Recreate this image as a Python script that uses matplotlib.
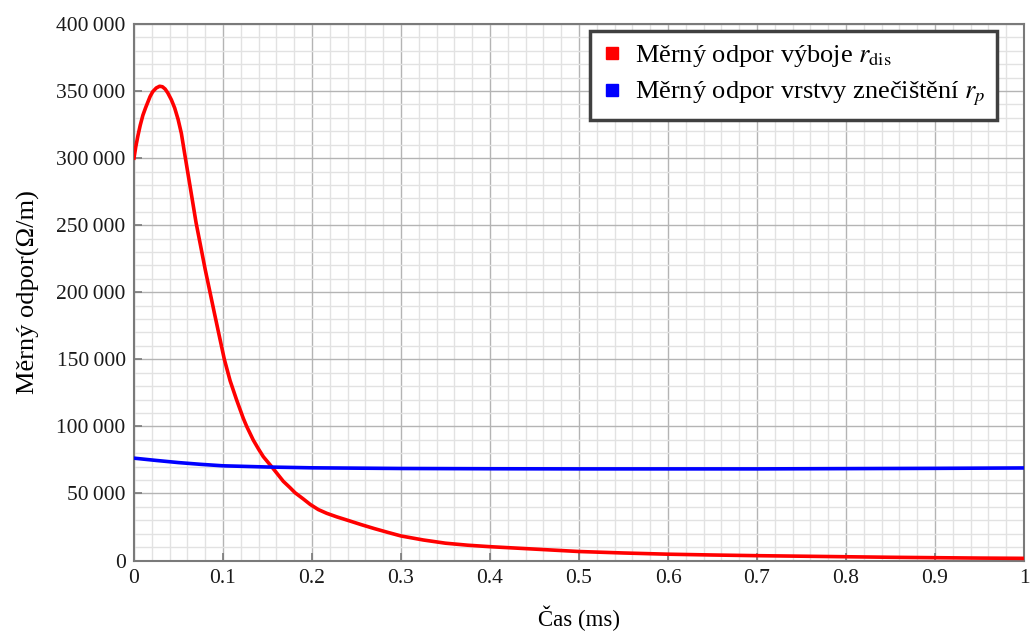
import matplotlib
matplotlib.use("Agg")
import matplotlib.pyplot as plt
from matplotlib.ticker import MultipleLocator, FuncFormatter
from matplotlib.lines import Line2D

# ---- data ----
t_dis = [0, 0.002, 0.0045, 0.007, 0.01, 0.013, 0.0157, 0.018, 0.021, 0.025,
         0.0288, 0.032, 0.035, 0.038, 0.042, 0.0457, 0.0495, 0.0532, 0.0565, 0.06,
         0.065, 0.0697, 0.075, 0.08, 0.0854, 0.09, 0.095, 0.1015, 0.108, 0.1153,
         0.1228, 0.1266, 0.134, 0.14, 0.1453, 0.1547, 0.16, 0.1678, 0.175, 0.181,
         0.19, 0.198, 0.207, 0.2165, 0.228, 0.24, 0.255, 0.27, 0.285, 0.3,
         0.325, 0.35, 0.375, 0.4, 0.45, 0.5, 0.55, 0.6, 0.65, 0.7,
         0.75, 0.8, 0.85, 0.9, 0.95, 1.0]
r_dis = [300000, 308500, 317000, 324500, 332000, 337500, 342000, 345800, 349500, 352300,
         353600, 353200, 351500, 348600, 343500, 337400, 329000, 318500, 305000, 291000,
         271000, 252000, 234000, 217000, 200000, 185500, 170000, 150000, 134000, 119700,
         106000, 100000, 89800, 83000, 77400, 69900, 65500, 59000, 54500, 50500,
         46000, 41800, 38000, 35200, 32500, 30000, 26800, 23800, 21000, 18300,
         15300, 12900, 11400, 10300, 8500, 6700, 5600, 4700, 4100, 3600,
         3200, 2800, 2400, 2100, 1800, 1600]

t_p = [0, 0.025, 0.05, 0.075, 0.1, 0.15, 0.2, 0.3, 0.4, 0.5, 0.6, 0.7, 0.8, 0.9, 1.0]
r_p = [76300, 74600, 73000, 71700, 70600, 69700, 69100, 68600, 68400, 68300,
       68300, 68300, 68500, 68700, 69000]

label_dis = r"Měrný odpor výboje $r_{\mathrm{dis}}$"
label_p = r"Měrný odpor vrstvy znečištění $r_p$"
xlabel = "Čas (ms)"
ylabel = "Měrný odpor(Ω/m)"

plt.rcParams["font.family"] = ["Liberation Serif", "DejaVu Serif"]
plt.rcParams["mathtext.fontset"] = "stix"

fig = plt.figure(figsize=(10.33, 6.32), dpi=100)
ax = fig.add_axes([134 / 1033, 1 - 560.5 / 632, 890 / 1033, (560.5 - 24) / 632])

ax.plot(t_dis, r_dis, color="#ff0000", lw=2.6, solid_joinstyle="round", zorder=3)
ax.plot(t_p, r_p, color="#0000ff", lw=2.6, solid_joinstyle="round", zorder=3)

ax.set_xlim(0, 1)
ax.set_ylim(0, 400000)
ax.xaxis.set_major_locator(MultipleLocator(0.1))
ax.xaxis.set_minor_locator(MultipleLocator(0.02))
ax.yaxis.set_major_locator(MultipleLocator(50000))
ax.yaxis.set_minor_locator(MultipleLocator(10000))


def xfmt(v, pos):
    if abs(v) < 1e-9:
        return "0"
    if abs(v - 1) < 1e-9:
        return "1"
    return f"{v:.1f}"


def yfmt(v, pos):
    return f"{int(round(v)):,}".replace(",", "\u2009")


ax.xaxis.set_major_formatter(FuncFormatter(xfmt))
ax.yaxis.set_major_formatter(FuncFormatter(yfmt))

ax.grid(True, which="major", color="#b4b4b4", lw=1.0, zorder=1)
ax.grid(True, which="minor", color="#e2e2e2", lw=1.0, zorder=0)
ax.set_axisbelow(True)

for s in ax.spines.values():
    s.set_color("#7a7a7a")
    s.set_linewidth(1.5)

ax.tick_params(which="major", direction="in", length=6, width=1.2, color="#7a7a7a",
               labelsize=15.5, labelcolor="#1a1a1a", pad=6)
ax.tick_params(which="minor", direction="in", length=0)

ax.set_xlabel(xlabel, fontsize=16.5, labelpad=13)
ax.set_ylabel(ylabel, fontsize=19, labelpad=12)

handles = [
    Line2D([], [], marker="s", ls="none", color="#ff0000", markersize=9),
    Line2D([], [], marker="s", ls="none", color="#0000ff", markersize=9),
]
leg = ax.legend(handles, [label_dis, label_p], loc="upper right",
                bbox_to_anchor=(997 / 1033, 1 - 31 / 632), bbox_transform=fig.transFigure,
                borderaxespad=0, fontsize=19, frameon=True, fancybox=False,
                edgecolor="#404040", framealpha=1, labelspacing=0.42,
                handletextpad=0.45, handlelength=0.8, borderpad=0.45)
leg.get_frame().set_linewidth(2.5)

fig.savefig("out.png", dpi=100)
